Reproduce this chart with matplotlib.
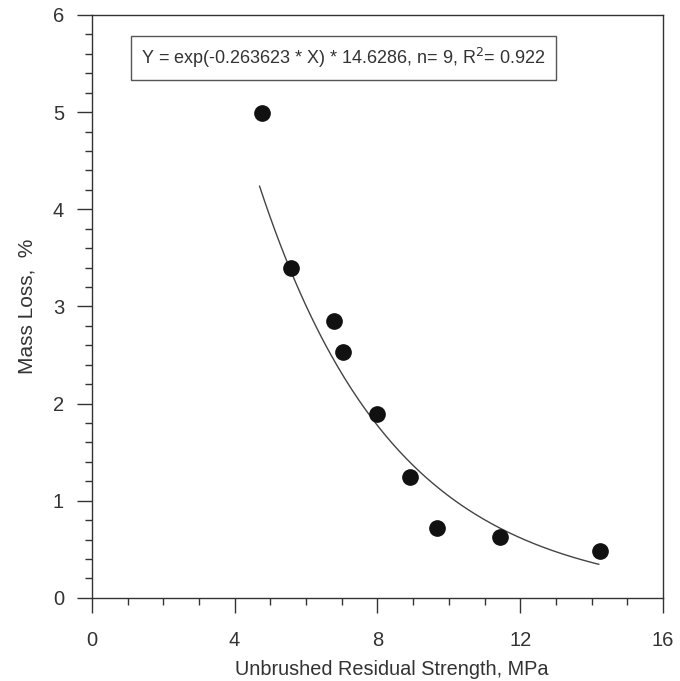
import numpy as np
import matplotlib.pyplot as plt
from matplotlib.ticker import MultipleLocator

plt.rcParams['font.family'] = ['Liberation Sans', 'DejaVu Sans']

# Data
strength = [4.76, 5.57, 6.78, 7.03, 7.98, 8.91, 9.66, 11.43, 14.23]
mass_loss = [4.99, 3.40, 2.85, 2.53, 1.89, 1.245, 0.72, 0.63, 0.48]

# Fit: Y = exp(-0.263623 * X) * 14.6286
coef_a = 14.6286
coef_b = -0.263623
fit_range = (4.7, 14.2)

ink = '#333333'

fig = plt.figure(figsize=(6.8, 6.81), dpi=100)
ax = fig.add_axes([0.135, 0.122, 0.84, 0.856])

xf = np.linspace(fit_range[0], fit_range[1], 200)
ax.plot(xf, coef_a * np.exp(coef_b * xf), color='#444444', lw=1.0)
ax.plot(strength, mass_loss, 'o', color='#111111', ms=11, mec='#111111')

ax.set_xlim(0, 16)
ax.set_ylim(0, 6)
ax.xaxis.set_major_locator(MultipleLocator(4))
ax.xaxis.set_minor_locator(MultipleLocator(1))
ax.yaxis.set_major_locator(MultipleLocator(1))
ax.yaxis.set_minor_locator(MultipleLocator(0.2))
ax.tick_params(which='major', length=11, width=1, color=ink, labelsize=14.5,
               labelcolor=ink)
ax.tick_params(which='minor', length=5, width=1, color=ink)
ax.tick_params(axis='x', which='major', pad=13)
ax.tick_params(axis='y', which='major', pad=9)
for s in ax.spines.values():
    s.set_color(ink)
    s.set_linewidth(1)

ax.set_xlabel('Unbrushed Residual Strength, MPa', fontsize=14.3, color=ink, labelpad=7)
ax.xaxis.label.set_x(0.525)
ax.set_ylabel('Mass Loss,  %', fontsize=15, color=ink, labelpad=12)

ax.text(7.05, 5.555, r'Y = exp(-0.263623 * X) * 14.6286, n= 9, R$^2$= 0.922',
        ha='center', va='center', fontsize=13, color=ink,
        bbox=dict(boxstyle='square,pad=0.55', fc='white', ec='#555555', lw=1))

fig.savefig('out.png', dpi=100)
